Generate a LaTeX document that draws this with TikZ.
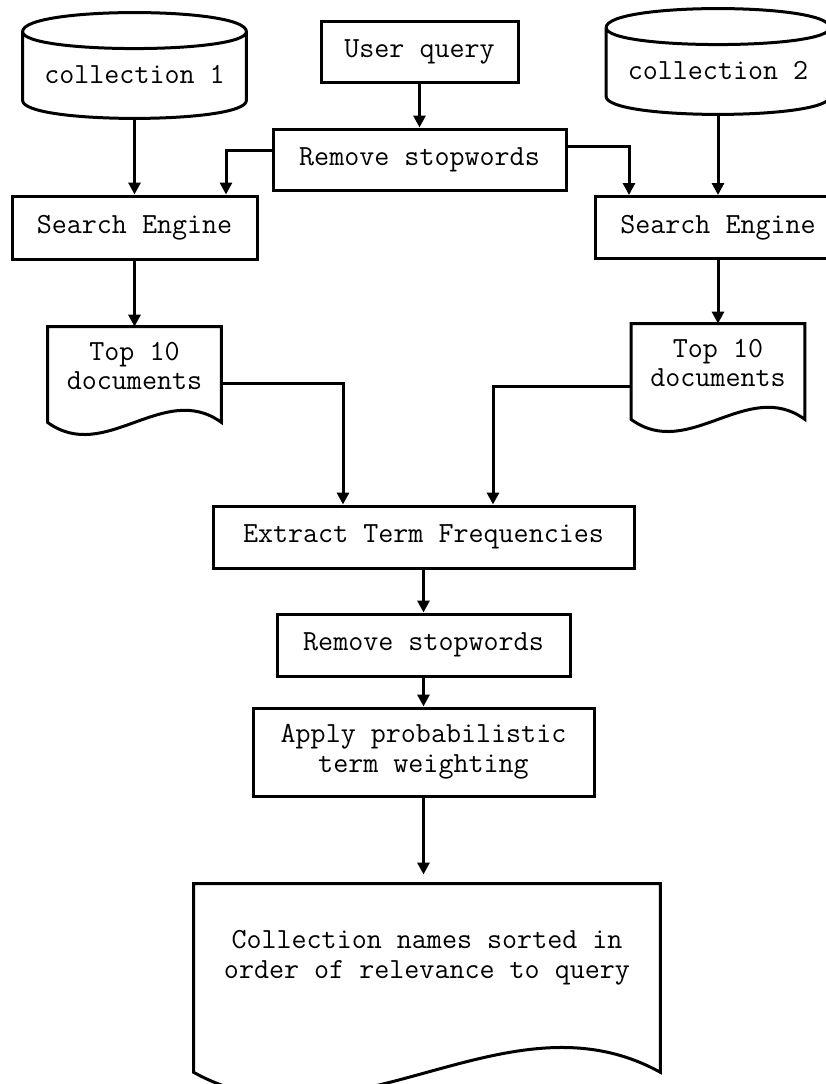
\documentclass[tikz,border=0pt]{standalone}
\usetikzlibrary{arrows.meta,positioning}

\begin{document}
\begin{tikzpicture}[
  x=0.5pt, y=-0.5pt,
  every node/.style={font=\fontsize{14.6}{14.8}\selectfont\ttfamily},
  box/.style={draw, line width=1.5pt, inner sep=0pt, minimum height=30.5pt, align=center},
  store/.style={inner sep=0pt, minimum width=111.5pt, minimum height=25.5pt},
  doc/.style={inner sep=0pt, minimum width=86.5pt, minimum height=39pt, align=center},
  line/.style={line width=1.5pt, line join=miter},
  arr/.style={-{Triangle[length=6pt, width=6pt]}, line width=1.5pt}
]
  \useasboundingbox (0,0) rectangle (826,1084);

  \node[box, minimum width=98.5pt] (query) at (419.5,51.5) {User query};
  \node[box, minimum width=146.5pt, below=22pt of query] (stop1) {Remove stopwords};

  \node[store] (coll1) at (134.5,74.5) {collection 1};
  \node[store] (coll2) at (718,70.5) {collection 2};
  \node[box, minimum width=122.5pt, minimum height=31.5pt] (engL) at (134.5,227.5) {Search Engine};
  \node[box, minimum width=122.5pt, minimum height=31pt] (engR) at (718,227.5) {Search Engine};
  \node[doc] (docL) at (134.5,366) {Top 10\\documents};
  \node[doc] (docR) at (718,363) {Top 10\\documents};

  \node[box, minimum width=210.5pt, minimum height=31pt] (extract) at (423.5,537) {Extract Term Frequencies};
  \node[box, minimum width=146.5pt, minimum height=31pt, below=21.5pt of extract] (stop2) {Remove stopwords};
  \node[box, minimum width=170.5pt, minimum height=44pt, below=14.5pt of stop2] (apply) {Apply probabilistic\\term weighting};
  \node[doc, minimum width=233pt, minimum height=74pt, below=43pt of apply, xshift=1.75pt] (result)
    {Collection names sorted in\\order of relevance to query};

  \foreach \c in {coll1,coll2}
    \draw[line] ([yshift=8.5pt]\c.north west) -- (\c.south west)
      .. controls ([yshift=-12pt]\c.south west) and ([yshift=-12pt]\c.south east) .. (\c.south east)
      -- ([yshift=8.5pt]\c.north east)
      .. controls ([yshift=21.2pt]\c.north east) and ([yshift=21.2pt]\c.north west) .. ([yshift=8.5pt]\c.north west)
      .. controls ([yshift=-2.8pt]\c.north west) and ([yshift=-2.8pt]\c.north east) .. ([yshift=8.5pt]\c.north east);

  \foreach \d in {docL,docR}
    \draw[line] (\d.north west) -- ([yshift=-8.5pt]\d.south west)
      .. controls +(28.8pt,-21pt) and +(-28.8pt,21pt) .. ([yshift=-8.5pt]\d.south east)
      -- (\d.north east) -- cycle;
  \draw[line] (result.north west) -- ([yshift=-20pt]result.south west)
    .. controls +(77.7pt,-43pt) and +(-77.7pt,43pt) .. ([yshift=-20pt]result.south east)
    -- (result.north east) -- cycle;

  \draw[arr] (query) -- (stop1);
  \draw[arr] ([yshift=4.75pt]stop1.west) -| ([xshift=45.75pt]engL.north);
  \draw[arr] ([yshift=6.75pt]stop1.east) -| ([xshift=-44.5pt]engR.north);
  \draw[arr] ([yshift=-9pt]coll1.south) -- (engL);
  \draw[arr] ([yshift=-9pt]coll2.south) -- (engR);
  \draw[arr] (engL) -- (docL);
  \draw[arr] (engR) -- (docR);
  \draw[arr] ([yshift=-8.5pt]docL.east) -| ([xshift=-40.25pt]extract.north);
  \draw[arr] ([yshift=-11.5pt]docR.west) -| ([xshift=34.75pt]extract.north);
  \draw[arr] (extract) -- (stop2);
  \draw[arr] (stop2) -- (apply);
  \draw[arr, shorten >=4.5pt] (apply.south) -- (apply.south |- result.north);
\end{tikzpicture}
\end{document}
